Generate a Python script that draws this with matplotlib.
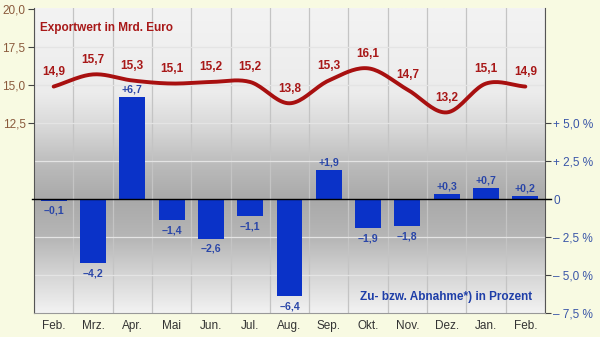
import numpy as np
import matplotlib
matplotlib.use("Agg")
import matplotlib.pyplot as plt
from matplotlib.colors import LinearSegmentedColormap

plt.rcParams['font.family'] = ['Liberation Sans', 'DejaVu Sans']

months = ["Feb.", "Mrz.", "Apr.", "Mai", "Jun.", "Jul.", "Aug.", "Sep.", "Okt.", "Nov.", "Dez.", "Jan.", "Feb."]
export_value = [14.9, 15.7, 15.3, 15.1, 15.2, 15.2, 13.8, 15.3, 16.1, 14.7, 13.2, 15.1, 14.9]
change_pct = [-0.1, -4.2, 6.7, -1.4, -2.6, -1.1, -6.4, 1.9, -1.9, -1.8, 0.3, 0.7, 0.2]
left_ticks = [12.5, 15.0, 17.5, 20.0]
right_ticks = [-7.5, -5.0, -2.5, 0.0, 2.5, 5.0]

RED = '#a81818'
BLUE = '#0a32c8'
LBLUE = '#2a46a8'

def fmt_de(v, sign=False):
    s = f"{abs(v):.1f}".replace('.', ',')
    if sign:
        return ('+' if v >= 0 else '\u2013') + s
    return s

def smooth(xs, ys, n=20):
    xs = np.asarray(xs, float); ys = np.asarray(ys, float)
    m = np.zeros_like(ys)
    m[1:-1] = (ys[2:] - ys[:-2]) / 2.0
    m[0] = ys[1] - ys[0]; m[-1] = ys[-1] - ys[-2]
    ox, oy = [], []
    for i in range(len(xs) - 1):
        t = np.linspace(0, 1, n, endpoint=False)
        h00 = 2*t**3 - 3*t**2 + 1; h10 = t**3 - 2*t**2 + t
        h01 = -2*t**3 + 3*t**2; h11 = t**3 - t**2
        ox.extend(xs[i] + t)
        oy.extend(h00*ys[i] + h10*m[i] + h01*ys[i+1] + h11*m[i+1])
    ox.append(xs[-1]); oy.append(ys[-1])
    return np.array(ox), np.array(oy)

fig = plt.figure(figsize=(6.0, 3.37), dpi=100, facecolor='#f8fae2')
ax = fig.add_axes([34/600, 1-313/337, (545-34)/600, (313-8)/337])
ax2 = ax.twinx()
x = np.arange(len(months))

# background gradient
stops = [(0.0, '#f3f3f3'), (0.28, '#ececec'), (0.40, '#d6d6d6'), (0.52, '#bababa'),
         (0.63, '#a9a9a9'), (0.76, '#b7b7b7'), (0.88, '#d6d6d6'), (1.0, '#f2f2f2')]
cmap = LinearSegmentedColormap.from_list('bg', stops)
grad = np.linspace(0, 1, 256).reshape(-1, 1)
ax.imshow(grad, cmap=cmap, aspect='auto', extent=[0, 1, 0, 1], transform=ax.transAxes, zorder=0)

ax.set_xlim(-0.5, len(months) - 0.5)
ax.set_ylim(-7.5, 12.57)

for b in np.arange(-0.5, len(months), 1.0):
    ax.axvline(b, color='#c4c4c4', lw=0.9, zorder=1)
for g in [-5.0, -2.5, 2.5, 5.0, 7.5, 10.0]:
    ax.axhline(g, color='#e4e4e4', lw=0.9, zorder=1)

ax.bar(x, change_pct, width=0.66, color=BLUE, zorder=3)
ax.plot([-0.55, len(months) - 0.5 + 0.15], [0, 0], color='black', lw=1.0, zorder=4, clip_on=False)

for xi, v in zip(x, change_pct):
    off = 5.5 if v >= 0 else -7.5
    ax.annotate(fmt_de(v, True), (xi, v), xytext=(0, off), textcoords='offset points',
                ha='center', va='center', fontsize=7.6, fontweight='bold', color=LBLUE, zorder=5)

ax.yaxis.tick_right()
ax.yaxis.set_label_position('right')
ax.set_yticks(right_ticks)
rlabels = []
for t in right_ticks:
    if t == 0:
        rlabels.append('0')
    else:
        rlabels.append(('+ ' if t > 0 else '\u2013 ') + f"{abs(t):.1f}".replace('.', ',') + ' %')
ax.set_yticklabels(rlabels)
ax.tick_params(axis='y', left=False, labelleft=False, right=True, labelright=True,
               colors='#444444', labelcolor='#3a56a8', labelsize=8.5, length=4, width=0.8, pad=2)
ax.set_xticks(x)
ax.set_xticklabels(months)
ax.tick_params(axis='x', length=0, labelsize=8.5, labelcolor='#333333', pad=5)

ax.spines['top'].set_visible(False)
ax.spines['bottom'].set_color('#999999')
ax.spines['left'].set_color('#555555')
ax.spines['right'].set_color('#555555')

# export line on twin axis with left ticks
ax2.set_ylim(0, 20.07)
ax2.yaxis.tick_left()
ax2.set_yticks(left_ticks)
ax2.set_yticklabels([fmt_de(t) for t in left_ticks])
ax2.tick_params(axis='y', left=True, labelleft=True, right=False, labelright=False,
                colors='#444444', labelcolor='#8a5a3c', labelsize=8.5, length=4, width=0.8, pad=2)
for s in ax2.spines.values():
    s.set_visible(False)
sx, sy = smooth(x, export_value)
ax2.plot(sx, sy, color='#a81010', lw=2.8, zorder=5, solid_capstyle='round')
for xi, v in zip(x, export_value):
    ax2.annotate(fmt_de(v), (xi, v), xytext=(0, 10.5), textcoords='offset points',
                 ha='center', va='center', fontsize=8.5, fontweight='bold', color=RED)

ax2.text(40/600, 1-28/337, "Exportwert in Mrd. Euro", transform=fig.transFigure,
         fontsize=8.5, fontweight='bold', color=RED, ha='left', va='center')
ax2.text(532/600, 1-297/337, "Zu- bzw. Abnahme*) in Prozent", transform=fig.transFigure,
         fontsize=8.5, fontweight='bold', color='#1e3ea8', ha='right', va='center')

fig.savefig('out.png', dpi=100, facecolor=fig.get_facecolor())
